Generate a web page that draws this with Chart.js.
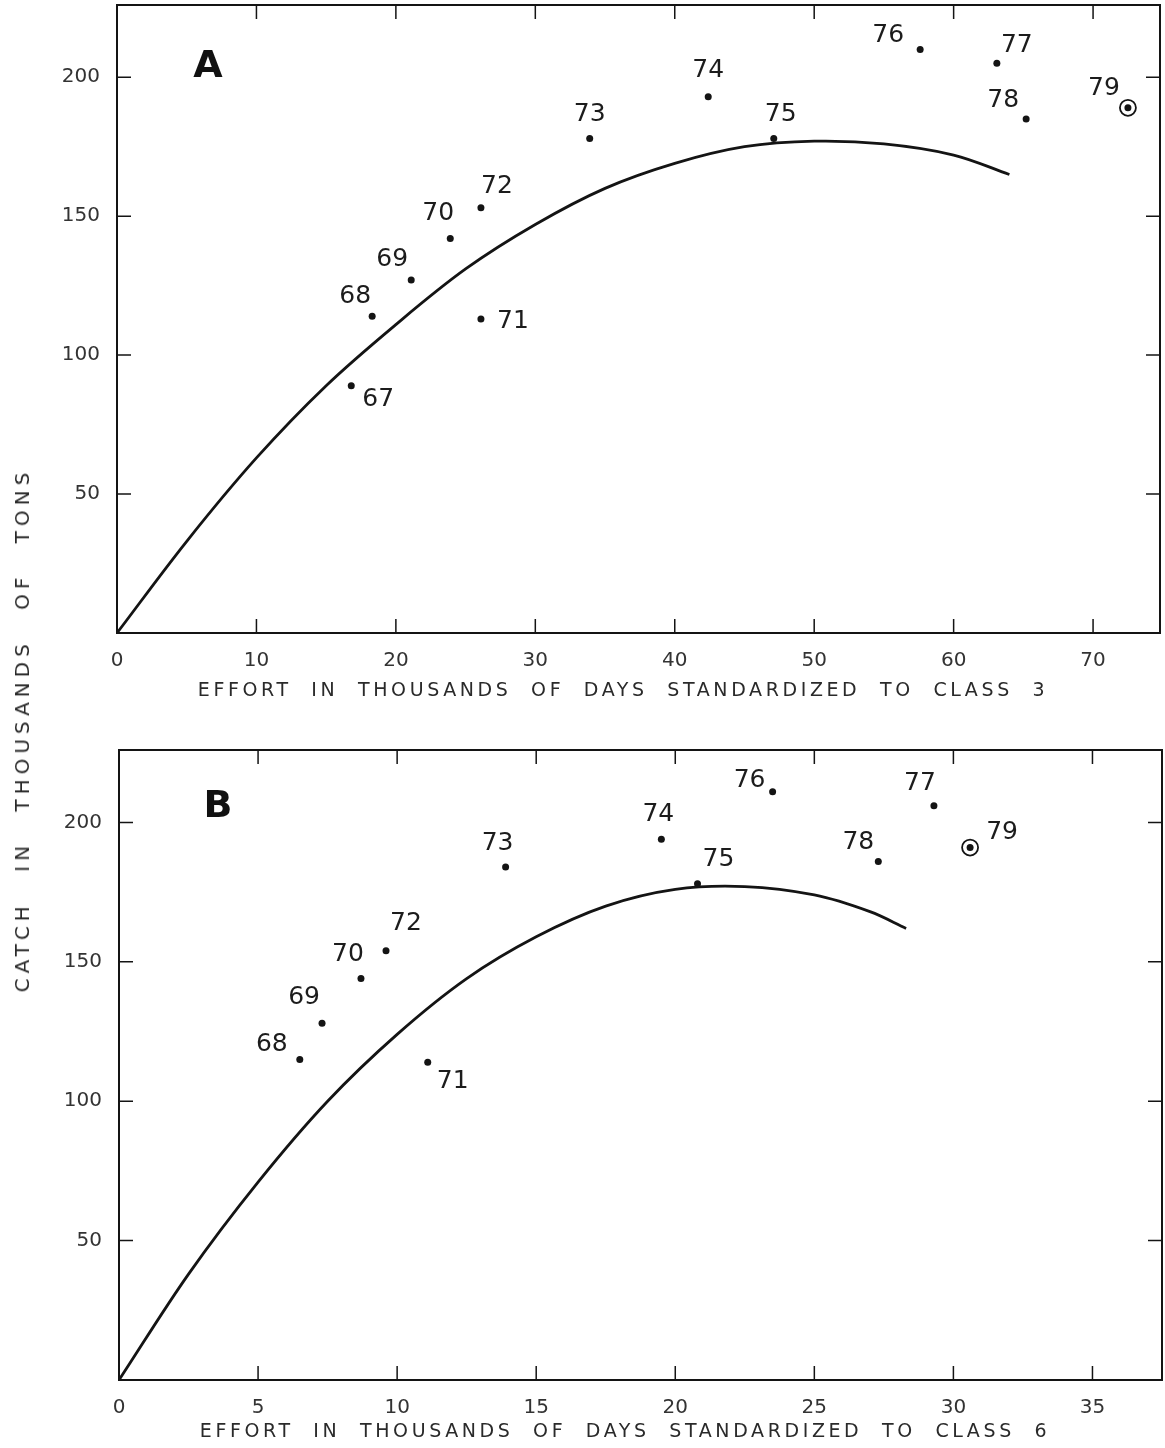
<!DOCTYPE html>
<html>
<head>
<meta charset="utf-8">
<script src="https://cdn.jsdelivr.net/npm/chart.js@4.4.1/dist/chart.umd.min.js"></script>
<style>
  body { margin: 0; background: #fff; }
  #page { position: relative; width: 1165px; height: 1448px; overflow: hidden; background: #fff; }
  canvas { position: absolute; left: 0; }
  #chartA { top: 0; }
  #chartB { top: 720px; }
  .title { position: absolute; white-space: nowrap; font-family: "DejaVu Sans", sans-serif; color: #2a2a2a; font-size: 19px; letter-spacing: 3.6px; word-spacing: 10px; }
  #xTitleA { left: 623px; top: 678px; transform: translateX(-50%); }
  #xTitleB { left: 625px; top: 1419px; transform: translateX(-50%); }
  #yTitle { left: 22px; top: 730px; transform: translate(-50%, -50%) rotate(-90deg); font-size: 20px; letter-spacing: 5px; word-spacing: 18px; }
</style>
</head>
<body>
<div id="page">
  <canvas id="chartA" width="1165" height="720"></canvas>
  <canvas id="chartB" width="1165" height="728"></canvas>
  <div class="title" id="xTitleA">EFFORT IN THOUSANDS OF DAYS STANDARDIZED TO CLASS 3</div>
  <div class="title" id="xTitleB">EFFORT IN THOUSANDS OF DAYS STANDARDIZED TO CLASS 6</div>
  <div class="title" id="yTitle">CATCH IN THOUSANDS OF TONS</div>
</div>
<script>
// panel A: effort standardized to class 3
const yearsA = ["67", "68", "69", "70", "71", "72", "73", "74", "75", "76", "77", "78", "79"];
const effortA = [16.8, 18.3, 21.1, 23.9, 26.1, 26.1, 33.9, 42.4, 47.1, 57.6, 63.1, 65.2, 72.5];
const catchA = [89, 114, 127, 142, 113, 153, 178, 193, 178, 210, 205, 185, 189];
const curveEffortA = [0, 5, 10, 15, 20, 25, 30, 35, 40, 45, 50, 55, 60, 64];
const curveCatchA = [0, 33, 63, 89, 111, 131, 147, 160, 169, 175, 177, 176, 172, 165];
const xTicksA = [0, 10, 20, 30, 40, 50, 60, 70];

// panel B: effort standardized to class 6
const yearsB = ["68", "69", "70", "71", "72", "73", "74", "75", "76", "77", "78", "79"];
const effortB = [6.5, 7.3, 8.7, 11.1, 9.6, 13.9, 19.5, 20.8, 23.5, 29.3, 27.3, 30.6];
const catchB = [115, 128, 144, 114, 154, 184, 194, 178, 211, 206, 186, 191];
const curveEffortB = [0, 2.5, 5, 7.5, 10, 12.5, 15, 17.5, 20, 22.5, 25, 27, 28.3];
const curveCatchB = [0, 38, 71, 100, 124, 144, 159, 170, 176, 177, 174, 168, 162];
const xTicksB = [0, 5, 10, 15, 20, 25, 30, 35];

const yTicks = [0, 50, 100, 150, 200];
const circledYear = "79";

// where each year number sits relative to its dot (px)
const labelOffsetsA = [[27, 14], [-17, -20], [-19, -21], [-12, -25], [32, 2], [16, -21], [0, -24], [0, -26], [7, -24], [-32, -14], [20, -18], [-23, -18], [-24, -19]];
const labelOffsetsB = [[-28, -15], [-18, -26], [-13, -24], [25, 19], [20, -27], [-8, -24], [-3, -25], [21, -24], [-23, -11], [-14, -22], [-20, -19], [32, -15]];

const FONT = "'DejaVu Sans', sans-serif";
const INK = "#141414";

const frameAndTicks = {
  id: "frameAndTicks",
  afterDatasetsDraw(chart) {
    const { ctx, chartArea: a } = chart;
    const x = chart.scales.x, y = chart.scales.y;
    ctx.save();
    ctx.strokeStyle = INK;
    ctx.lineWidth = 2;
    ctx.strokeRect(a.left, a.top, a.right - a.left, a.bottom - a.top);
    ctx.lineWidth = 1.5;
    ctx.beginPath();
    x.ticks.forEach((t) => {
      if (t.value <= x.min) return;
      const px = x.getPixelForValue(t.value);
      ctx.moveTo(px, a.bottom); ctx.lineTo(px, a.bottom - 14);
      ctx.moveTo(px, a.top); ctx.lineTo(px, a.top + 14);
    });
    y.ticks.forEach((t) => {
      if (t.value <= y.min) return;
      const py = y.getPixelForValue(t.value);
      ctx.moveTo(a.left, py); ctx.lineTo(a.left + 14, py);
      ctx.moveTo(a.right, py); ctx.lineTo(a.right - 14, py);
    });
    ctx.stroke();
    ctx.restore();
  },
};

const yearLabels = {
  id: "yearLabels",
  afterDatasetsDraw(chart, args, opts) {
    const { ctx } = chart;
    const meta = chart.getDatasetMeta(0);
    ctx.save();
    ctx.fillStyle = "#1c1c1c";
    ctx.font = "25px " + FONT;
    ctx.textAlign = "center";
    ctx.textBaseline = "middle";
    meta.data.forEach((pt, i) => {
      const off = opts.offsets[i];
      ctx.fillText(opts.labels[i], pt.x + off[0], pt.y + off[1]);
    });
    // panel letter
    ctx.font = "bold 38px " + FONT;
    ctx.fillStyle = "#111";
    ctx.fillText(opts.panel, chart.chartArea.left + opts.panelPos[0], chart.chartArea.top + opts.panelPos[1]);
    ctx.restore();
  },
};

function makeChart(id, years, effort, catches, curveX, curveY, xTicks, xMax, offsets, panel, panelPos, pad, bottomH) {
  const pts = effort.map((e, i) => ({ x: e, y: catches[i] }));
  const ci = years.indexOf(circledYear);
  const curve = curveX.map((e, i) => ({ x: e, y: curveY[i] }));
  return new Chart(document.getElementById(id), {
    type: "scatter",
    data: {
      datasets: [
        { data: pts, pointRadius: 3.5, pointBackgroundColor: INK, pointBorderWidth: 0, showLine: false },
        { data: [pts[ci]], pointRadius: 8, pointBackgroundColor: "rgba(0,0,0,0)", pointBorderColor: INK, pointBorderWidth: 1.8, showLine: false },
        { data: curve, showLine: true, pointRadius: 0, borderColor: INK, borderWidth: 2.8, tension: 0.35, fill: false },
      ],
    },
    options: {
      responsive: false,
      animation: false,
      devicePixelRatio: 1,
      layout: { padding: pad, autoPadding: false },
      plugins: {
        legend: { display: false },
        tooltip: { enabled: false },
        yearLabels: { labels: years, offsets: offsets, panel: panel, panelPos: panelPos },
      },
      scales: {
        x: {
          type: "linear",
          min: 0,
          max: xMax,
          grid: { display: false, drawTicks: false },
          border: { display: false },
          afterBuildTicks: (s) => { s.ticks = xTicks.map((v) => ({ value: v })); },
          afterFit: (s) => { s.height = bottomH; s.paddingLeft = 0; s.paddingRight = 0; },
          ticks: { padding: 16, color: "#333", font: { family: FONT, size: 20 }, maxRotation: 0, callback: (v) => String(v) },
        },
        y: {
          type: "linear",
          min: 0,
          max: 226,
          grid: { display: false, drawTicks: false },
          border: { display: false },
          afterBuildTicks: (s) => { s.ticks = yTicks.map((v) => ({ value: v })); },
          afterFit: (s) => { s.width = 77; s.paddingTop = 0; s.paddingBottom = 0; },
          ticks: { padding: 17, color: "#333", font: { family: FONT, size: 20 }, callback: (v) => (v === 0 ? "" : String(v)) },
        },
      },
    },
    plugins: [frameAndTicks, yearLabels],
  });
}

makeChart("chartA", yearsA, effortA, catchA, curveEffortA, curveCatchA, xTicksA, 74.8, labelOffsetsA, "A", [91, 62],
  { left: 40, right: 5, top: 5, bottom: 0 }, 87);
makeChart("chartB", yearsB, effortB, catchB, curveEffortB, curveCatchB, xTicksB, 37.5, labelOffsetsB, "B", [99, 57],
  { left: 42, right: 3, top: 30, bottom: 0 }, 68);
</script>
</body>
</html>
